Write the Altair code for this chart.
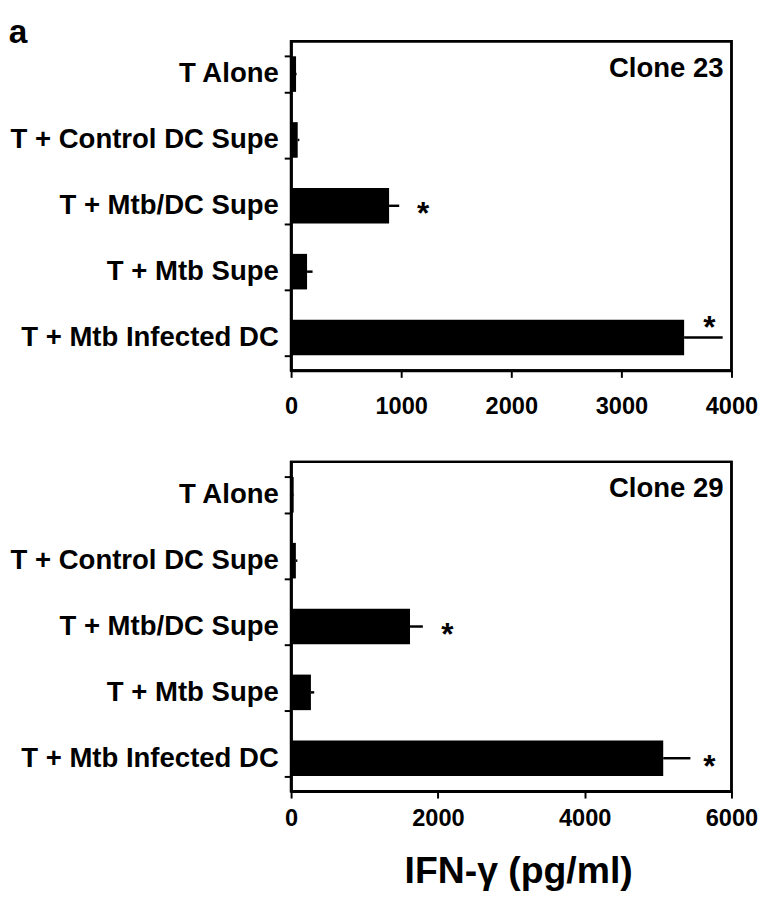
import altair as alt
import pandas as pd

categories = ["T Alone", "T + Control DC Supe", "T + Mtb/DC Supe", "T + Mtb Supe", "T + Mtb Infected DC"]

clone23_mean = [45, 60, 890, 145, 3570]
clone23_err = [5, 15, 92, 50, 350]
clone23_star_x = [None, None, 1200, None, 3800]
clone23_star_pos = [None, None, "mid", None, "above"]

clone29_mean = [35, 65, 1620, 270, 5070]
clone29_err = [5, 20, 175, 45, 370]
clone29_star_x = [None, None, 2130, None, 5700]
clone29_star_pos = [None, None, "mid", None, "mid"]

FONT = "Liberation Sans"
W, H = 448, 335


def panel(mean, err, star_x, star_pos, label, xmax, step, xtitle, lab_pad):
    df = pd.DataFrame({
        "cond": categories,
        "mean": mean,
        "hi": [m + e for m, e in zip(mean, err)],
    })
    sdf = pd.DataFrame({"cond": categories, "sx": star_x, "pos": star_pos}).dropna()

    yenc = alt.Y(
        "cond:N", sort=categories, title=None,
        scale=alt.Scale(paddingInner=0.46, paddingOuter=0.23),
        axis=alt.Axis(tickBand="extent", labelPadding=6),
    )
    if xtitle:
        xaxis = alt.Axis(values=list(range(0, xmax + 1, step)), format="d", labelFlush=False,
                         grid=False, labelPadding=lab_pad, title=xtitle,
                         titleAnchor="middle", titleX=W / 2 + 7)
    else:
        xaxis = alt.Axis(values=list(range(0, xmax + 1, step)), format="d", labelFlush=False,
                         grid=False, labelPadding=lab_pad, title=None)
    xenc = alt.X("mean:Q", scale=alt.Scale(domain=[0, xmax], nice=False), axis=xaxis)

    frame = alt.Chart(pd.DataFrame({"t": [label]})).mark_rect(
        fillOpacity=0, stroke="black", strokeWidth=2.5
    ).encode(x=alt.value(0), x2=alt.value(W), y=alt.value(0), y2=alt.value(H))
    bars = alt.Chart(df).mark_bar(color="black").encode(x=xenc, y=yenc)
    errs = alt.Chart(df).mark_rule(color="black", strokeWidth=2.5).encode(
        x="mean:Q", x2="hi:Q", y=alt.Y("cond:N", sort=categories)
    )
    stars_mid = alt.Chart(sdf).transform_filter(alt.datum.pos == "mid").mark_text(
        text="*", fontSize=32, fontWeight="bold", font=FONT, color="black", dy=9
    ).encode(x="sx:Q", y=alt.Y("cond:N", sort=categories))
    stars_above = alt.Chart(sdf).transform_filter(alt.datum.pos == "above").mark_text(
        text="*", fontSize=32, fontWeight="bold", font=FONT, color="black", dy=-9
    ).encode(x="sx:Q", y=alt.Y("cond:N", sort=categories))
    clone = alt.Chart(pd.DataFrame({"t": [label]})).mark_text(
        align="right", baseline="top", fontSize=28, fontWeight="bold", font=FONT, color="black"
    ).encode(text="t:N", x=alt.value(W - 8), y=alt.value(14))

    return alt.layer(bars, errs, stars_mid, stars_above, clone, frame).properties(width=W, height=H)


top = panel(clone23_mean, clone23_err, clone23_star_x, clone23_star_pos, "Clone 23", 4000, 1000,
            None, 18)
bottom = panel(clone29_mean, clone29_err, clone29_star_x, clone29_star_pos, "Clone 29", 6000, 2000,
               "IFN-γ (pg/ml)", 9)

chart = alt.vconcat(top, bottom, spacing=26).properties(
    title=alt.TitleParams("a", anchor="start", fontSize=34, fontWeight="bold", font=FONT,
                          color="black", offset=-24),
    padding={"left": 0, "top": 0, "right": 0, "bottom": 0},
).configure_view(
    stroke="black", strokeWidth=2.5
).configure_axis(
    domainColor="black", domainWidth=2.5, tickColor="black", tickWidth=2, tickSize=7,
    labelFont=FONT, labelFontWeight="bold", labelColor="black",
    titleFont=FONT, titleFontWeight="bold", titleColor="black",
).configure_axisY(
    labelFontSize=28, labelLimit=400
).configure_axisX(
    labelFontSize=24, titleFontSize=38, titlePadding=23
)

chart.save("out.html", embed_options={"renderer": "svg", "actions": False})
